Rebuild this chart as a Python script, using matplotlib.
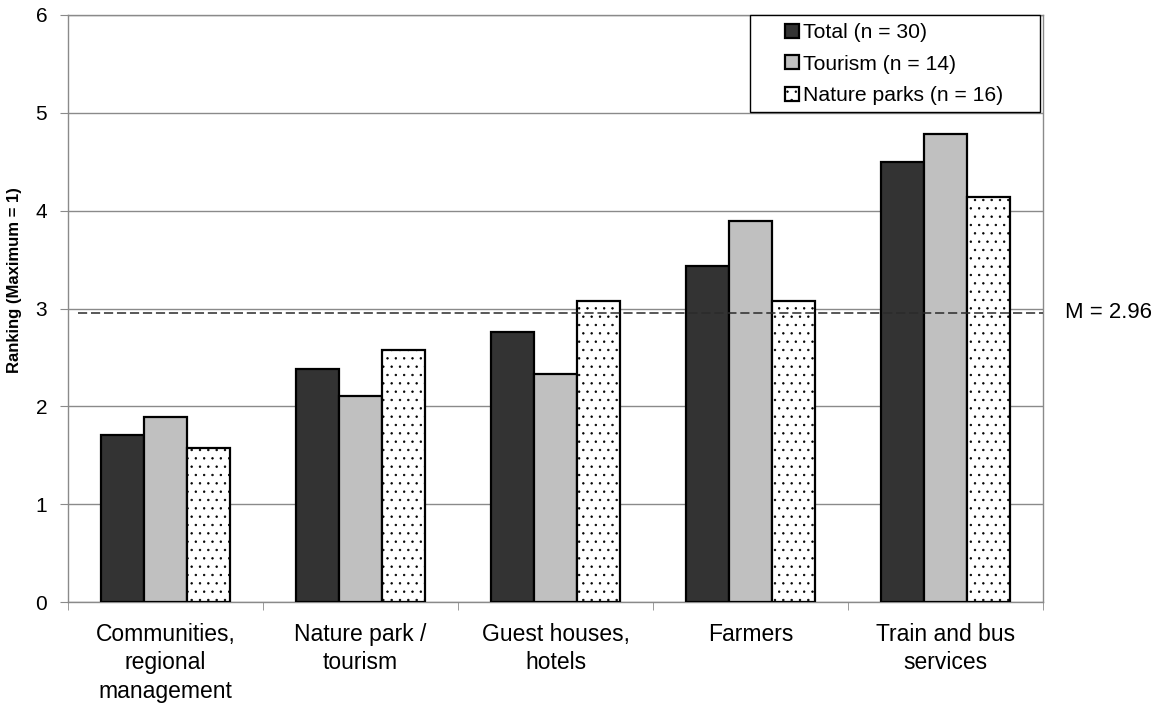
import numpy as np
import matplotlib
matplotlib.use("Agg")
import matplotlib.pyplot as plt
from matplotlib.patches import Rectangle

plt.rcParams['font.family'] = ['Liberation Sans', 'DejaVu Sans']
plt.rcParams['hatch.linewidth'] = 0.5

categories = ["Communities,\nregional\nmanagement", "Nature park /\ntourism",
              "Guest houses,\nhotels", "Farmers", "Train and bus\nservices"]
series_names = ["Total (n = 30)", "Tourism (n = 14)", "Nature parks (n = 16)"]
total = [1.71, 2.38, 2.76, 3.43, 4.50]
tourism = [1.89, 2.11, 2.33, 3.89, 4.78]
nature_parks = [1.57, 2.58, 3.08, 3.08, 4.14]
y_ticks = [0, 1, 2, 3, 4, 5, 6]

mean_total = np.mean(total)

fig = plt.figure(figsize=(11.64, 7.04), dpi=100)
ax = fig.add_axes([68 / 1164, 1 - 602 / 704, 975 / 1164, 587 / 704])

grid_col = "#8a8a8a"
x = np.arange(len(categories))
w = 0.222
styles = [
    dict(facecolor="#333333", hatch=None),
    dict(facecolor="#c0c0c0", hatch=None),
    dict(facecolor="white", hatch=".."),
]
handles = []
for i, (vals, st) in enumerate(zip([total, tourism, nature_parks], styles)):
    b = ax.bar(x + (i - 1) * w, vals, width=w, facecolor=st["facecolor"],
               edgecolor="black", linewidth=1.6, hatch=st["hatch"], zorder=3,
               label=series_names[i])
    handles.append(b)

ax.set_xlim(-0.5, len(categories) - 0.5)
ax.set_ylim(0, 6)
ax.set_yticks(y_ticks)
ax.set_yticklabels([str(v) for v in y_ticks])
ax.yaxis.grid(True, color=grid_col, linewidth=1.0, zorder=0)
ax.set_axisbelow(True)

ax.set_xticks(x)
ax.set_xticklabels(categories, fontsize=16.5, linespacing=1.3)
ax.set_xticks(np.arange(len(categories) + 1) - 0.5, minor=True)
ax.tick_params(axis="x", which="major", length=0, pad=15)
ax.tick_params(axis="x", which="minor", length=6, color=grid_col, direction="out")
ax.tick_params(axis="y", which="major", length=6, color=grid_col, labelsize=15, pad=9)

for sp in ax.spines.values():
    sp.set_color(grid_col)
    sp.set_linewidth(1.0)

ax.set_ylabel("Ranking (Maximum = 1)", fontsize=12, fontweight="bold")
ax.yaxis.set_label_coords((22 - 68) / 975, (602 - 280) / 587)

# mean of the total ranking
ax.plot([-0.45, len(categories) - 0.5], [mean_total, mean_total], color="#2a2a2a",
        linewidth=1.1, linestyle=(0, (6, 2.5)), zorder=4)
ax.text(1.0226, mean_total, f"M = {mean_total:.2f}", transform=ax.get_yaxis_transform(),
        fontsize=16, va="center", ha="left")

# legend box
ax.add_patch(Rectangle((0.6995, 0.835), 0.2975, 0.165, transform=ax.transAxes,
                       facecolor="white", edgecolor="black", linewidth=1.0, zorder=5,
                       clip_on=False))
leg = ax.legend(handles=handles, loc="upper left",
                bbox_to_anchor=((785 - 68) / 975, (602 - 23) / 587),
                frameon=False, fontsize=15.2, handlelength=0.65, handleheight=0.65,
                handletextpad=0.2, labelspacing=0.6, borderpad=0, borderaxespad=0)
leg.set_zorder(6)

fig.savefig("out.png", dpi=100)
